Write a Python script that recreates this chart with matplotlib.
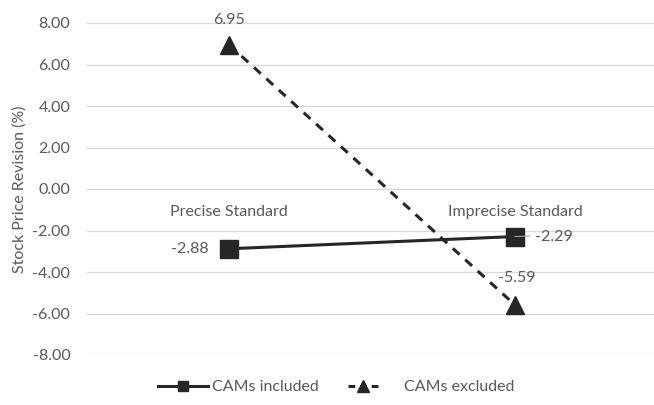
import matplotlib
matplotlib.use('Agg')
from matplotlib import pyplot as plt
from matplotlib.lines import Line2D

# data
categories = ['Precise Standard', 'Imprecise Standard']
cams_included = [-2.88, -2.29]
cams_excluded = [6.95, -5.59]
y_ticks = [-8, -6, -4, -2, 0, 2, 4, 6, 8]

plt.rcParams['font.family'] = ['Lato', 'DejaVu Sans']
grey = '#595959'
dark = '#262626'
fs = 11.5

fig = plt.figure(figsize=(6.54, 4.05), dpi=100)
ax = fig.add_axes([87 / 654, 50 / 405, 1 - 87 / 654, 332 / 405])

x = list(range(len(categories)))
ax.plot(x, cams_included, color=dark, lw=2.2, marker='s', ms=13, zorder=3)
ax.plot(x, cams_excluded, color=dark, lw=2.2, ls=(0, (3, 2.5)), marker='^', ms=13, zorder=3)

ax.set_xlim(-0.497, 1.486)
ax.set_ylim(-8, 8)
ax.set_yticks(y_ticks)
ax.set_yticklabels(['%.2f' % v for v in y_ticks], fontsize=fs, color=grey)
ax.tick_params(axis='y', length=0, pad=12)
ax.set_xticks([])
ax.grid(axis='y', color='#d9d9d9', lw=1)
ax.set_axisbelow(True)
for s in ax.spines.values():
    s.set_visible(False)
ax.set_ylabel('Stock Price Revision (%)', fontsize=fs, color=grey, labelpad=4)

# category labels sitting under the zero line
for xi, name in zip(x, categories):
    ax.text(xi, -1.1, name, ha='center', va='center', fontsize=fs, color=grey)

# data labels
ax.text(x[0], 8.15, '%.2f' % cams_excluded[0], ha='center', va='center', fontsize=fs, color=grey)
ax.text(x[0] - 0.073, cams_included[0], '%.2f' % cams_included[0], ha='right', va='center', fontsize=fs, color=grey)
ax.plot([x[1], x[1] + 0.05], [cams_included[1], cams_included[1] + 0.02], color='#a6a6a6', lw=0.8, zorder=4)
ax.text(x[1] + 0.07, cams_included[1], '%.2f' % cams_included[1], ha='left', va='center', fontsize=fs, color=grey)
ax.text(x[1] - 0.06, -4.29, '%.2f' % cams_excluded[1], ha='left', va='center', fontsize=fs, color=grey)

h1 = Line2D([], [], color=dark, lw=2.2, marker='s', ms=7.5)
h2 = Line2D([], [], color=dark, lw=2.2, ls=(0, (2.2, 1.6)), marker='^', ms=8)
fig.legend([h1], ['CAMs included'], loc='center left', bbox_to_anchor=(150 / 654, 18 / 405),
           frameon=False, fontsize=fs, labelcolor=grey, handlelength=3.1, handletextpad=0.3, borderpad=0)
fig.legend([h2], ['CAMs excluded'], loc='center left', bbox_to_anchor=(340 / 654, 18 / 405),
           frameon=False, fontsize=fs, labelcolor=grey, handlelength=1.9, handletextpad=1.6, borderpad=0)

plt.savefig('out.png', dpi=100)
